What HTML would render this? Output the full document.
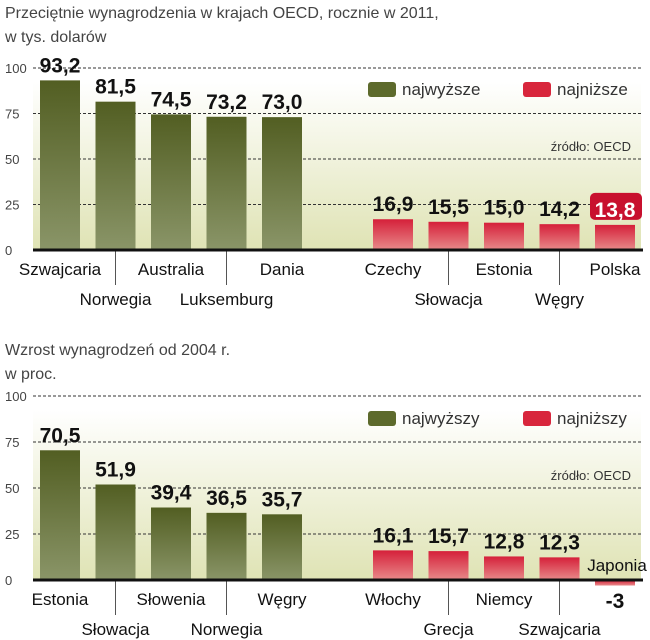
<!DOCTYPE html>
<html><head><meta charset="utf-8"><style>
body{margin:0;background:#fff;width:650px;height:640px;overflow:hidden}
svg{display:block}
text{font-family:"Liberation Sans Narrow","Liberation Sans",sans-serif}
</style></head><body>
<svg id="c" width="650" height="640">
<defs>
<linearGradient id="bg" x1="0" y1="0" x2="0" y2="1"><stop offset="0" stop-color="#ffffff"/><stop offset="1" stop-color="#dfe3b4"/></linearGradient>
<linearGradient id="gr" x1="0" y1="0" x2="0" y2="1"><stop offset="0" stop-color="#525e22"/><stop offset="1" stop-color="#8a9568"/></linearGradient>
<linearGradient id="rd" x1="0" y1="0" x2="0" y2="1"><stop offset="0" stop-color="#d5203a"/><stop offset="1" stop-color="#e88a8a"/></linearGradient>
</defs>
<g id="g1"></g>
<g id="g2"></g>
</svg>
<script>
const cats1=["Szwajcaria","Norwegia","Australia","Luksemburg","Dania","Czechy","Słowacja","Estonia","Węgry","Polska"];
const vals1=[93.2,81.5,74.5,73.2,73.0,16.9,15.5,15.0,14.2,13.8];
const labels1=["93,2","81,5","74,5","73,2","73,0","16,9","15,5","15,0","14,2","13,8"];
const cats2=["Estonia","Słowacja","Słowenia","Norwegia","Węgry","Włochy","Grecja","Niemcy","Szwajcaria","Japonia"];
const vals2=[70.5,51.9,39.4,36.5,35.7,16.1,15.7,12.8,12.3,-3];
const labels2=["70,5","51,9","39,4","36,5","35,7","16,1","15,7","12,8","12,3","-3"];
const ticks=[0,25,50,75,100];
const NS="http://www.w3.org/2000/svg";
function mk(p,t,a,txt){const e=document.createElementNS(NS,t);for(const k in a)e.setAttribute(k,a[k]);if(txt!==undefined)e.textContent=txt;p.appendChild(e);return e;}
function draw(g,cfg){
  const base=cfg.base, top=cfg.top;
  const y=v=>base-(v/100)*(base-top);
  const xi=i=>40+(i<5?i:i+1)*55.5;
  let t;
  t=mk(g,'text',{x:5,y:cfg.ty,'font-size':16,fill:'#444'},cfg.t1);
  
  t=mk(g,'text',{x:5,y:cfg.ty+24,'font-size':16,fill:'#444'},cfg.t2);
  
  const bgr=mk(g,'rect',{x:33,y:top+14,width:608,height:base-top-14,fill:'url(#bg)'});
  
  ticks.forEach(v=>{
    const l=mk(g,'text',{x:5,y:y(v)+5,'font-size':13,fill:'#444'},String(v));
    
    if(v>0){const gl=mk(g,'line',{x1:33,x2:641,y1:y(v),y2:y(v),stroke:'#333','stroke-width':1,'stroke-dasharray':'3,2'});
    }
  });
  cfg.vals.forEach((v,i)=>{
    const x=xi(i),red=i>=5;
    const yy=Math.min(y(v),base),h=Math.abs(y(v)-base);
    const b=mk(g,'rect',{x:x,y:yy,width:40,height:Math.max(h,1),fill:red?'url(#rd)':'url(#gr)'});
    
    
    const hl=cfg.hl&&i===9;
    if(hl){const r=mk(g,'rect',{x:x-5,y:y(v)-32,width:52,height:27,rx:5,fill:'#c8102e'});
      }
    const neg=v<0;
    let ly=neg?base+28:y(v)-8;
    const vl=mk(g,'text',{x:x+20,y:ly,'font-size':21,'font-weight':'bold','text-anchor':'middle',fill:hl?'#fff':'#111'},cfg.labels[i]);
    
    const j=i<5?i:i-5;
    const cy=neg?base-9:(j%2===0?base+25:base+55);
    const cl=mk(g,'text',{x:x+20+(neg?2:0),y:cy,'font-size':17,'text-anchor':'middle',fill:'#111'},cfg.cats[i]);
    
  });
  [1,3,6,8].forEach(i=>{const x=xi(i)+20;
    const s=mk(g,'line',{x1:x,x2:x,y1:base,y2:base+35,stroke:'#555','stroke-width':1});
    });
  const ax=mk(g,'line',{x1:33,x2:643,y1:base,y2:base,stroke:'#111','stroke-width':3});
  
  const ly=cfg.legY;
  let lg=mk(g,'rect',{x:368,y:ly-11,width:28,height:15,rx:3,fill:'#5d6a2c'});
  
  lg=mk(g,'text',{x:402,y:ly+2,'font-size':17,fill:'#333'},cfg.l1);
  
  lg=mk(g,'rect',{x:523,y:ly-11,width:28,height:15,rx:3,fill:'#d8263c'});
  
  lg=mk(g,'text',{x:557,y:ly+2,'font-size':17,fill:'#333'},cfg.l2);
  
  const src=mk(g,'text',{x:631,y:y(50)-8,'font-size':13,'text-anchor':'end',fill:'#333'},'źródło: OECD');
  
}
draw(document.getElementById('g1'),{base:250,top:68,ty:18,t1:'Przeciętnie wynagrodzenia w krajach OECD, rocznie w 2011,',t2:'w tys. dolarów',cats:cats1,vals:vals1,labels:labels1,hl:true,legY:93,l1:'najwyższe',l2:'najniższe'});
draw(document.getElementById('g2'),{base:580,top:396,ty:355,t1:'Wzrost wynagrodzeń od 2004 r.',t2:'w proc.',cats:cats2,vals:vals2,labels:labels2,hl:false,legY:422,l1:'najwyższy',l2:'najniższy'});
</script>
</body></html>
